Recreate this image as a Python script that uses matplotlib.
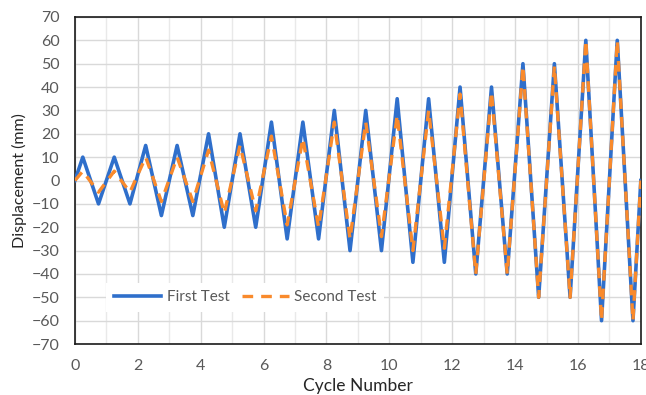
"""Cyclic displacement protocol, first vs second test (Excel-style line chart)."""

import numpy as np
from matplotlib import pyplot as plt
from matplotlib.ticker import MultipleLocator

# displacement peaks / troughs per cycle (mm), 18 cycles
CYCLES = np.arange(18)
FIRST_PEAKS = [10, 10, 15, 15, 20, 20, 25, 25, 30, 30, 35, 35, 40, 40, 50, 50, 60, 60]
FIRST_TROUGHS = [-10, -10, -15, -15, -20, -20, -25, -25, -30, -30, -35, -35, -40, -40, -50, -50, -60, -60]
SECOND_PEAKS = [4, 4, 10, 10, 13, 15, 19, 18, 25, 25, 28, 30, 37, 38, 49, 49, 60, 60]
SECOND_TROUGHS = [-5, -5, -9, -9, -14, -13, -19, -20, -25, -24, -30, -29, -40, -40, -50, -50, -60, -60]

BLUE = "#2f6fcb"
ORANGE = "#f98a2c"
GRAY = "#595959"
FONT = ["Lato", "DejaVu Sans"]


def build_path(peaks, troughs):
    # each cycle: peak at +0.25, trough at +0.75; start and end at zero
    xs, ys = [0.0], [0.0]
    for c, p, t in zip(CYCLES, peaks, troughs):
        xs += [c + 0.25, c + 0.75]
        ys += [p, t]
    xs.append(float(len(CYCLES)))
    ys.append(0.0)
    return xs, ys


def main():
    plt.rcParams.update({"font.family": FONT})
    fig = plt.figure(figsize=(6.46, 3.95), dpi=100)
    ax = fig.add_axes([0.116, 0.129, 0.876, 0.828])

    x1, y1 = build_path(FIRST_PEAKS, FIRST_TROUGHS)
    x2, y2 = build_path(SECOND_PEAKS, SECOND_TROUGHS)
    ax.plot(x1, y1, color=BLUE, lw=2.6, label="First Test", zorder=3)
    ax.plot(x2, y2, color=ORANGE, lw=2.4, dashes=(3.2, 2.4), label="Second Test", zorder=4)

    ax.set_xlim(0, 18)
    ax.set_ylim(-70, 70)
    ax.xaxis.set_major_locator(MultipleLocator(2))
    ax.xaxis.set_minor_locator(MultipleLocator(1))
    ax.yaxis.set_major_locator(MultipleLocator(10))
    ax.grid(True, which="major", color="#d9d9d9", lw=1.0, zorder=0)
    ax.grid(True, which="minor", axis="x", color="#e9e9e9", lw=1.0, zorder=0)
    ax.set_axisbelow(True)

    ax.tick_params(which="both", length=0, labelsize=11.5, labelcolor=GRAY)
    ax.tick_params(axis="x", pad=11)
    ax.tick_params(axis="y", pad=11)
    for sp in ax.spines.values():
        sp.set_color("#1a1a1a")
        sp.set_linewidth(1.2)

    ax.set_xlabel("Cycle Number", fontsize=12.5, color="#262626")
    ax.set_ylabel("Displacement (mm)", fontsize=11.5, color="#262626")
    ax.xaxis.set_label_coords(0.5, -0.105)
    ax.yaxis.set_label_coords(-0.085, 0.5)

    leg = ax.legend(loc="center left", bbox_to_anchor=(0.042, 0.143), ncol=2, fontsize=11,
                    frameon=True, facecolor="white", edgecolor="none", framealpha=1,
                    handlelength=3.1, handletextpad=0.35, columnspacing=0.8,
                    borderpad=0.5, fancybox=False)
    for t in leg.get_texts():
        t.set_color(GRAY)

    fig.savefig("out.png", dpi=100)
    plt.close(fig)


if __name__ == "__main__":
    main()
